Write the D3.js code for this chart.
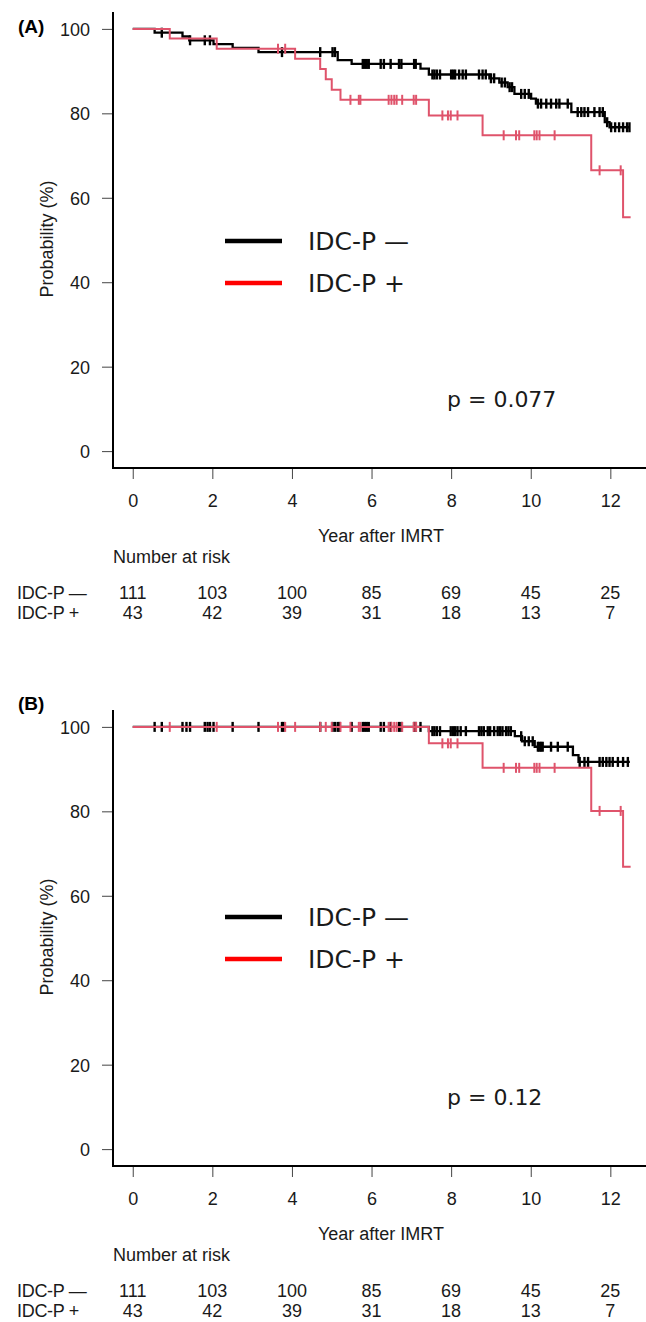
<!DOCTYPE html>
<html>
<head>
<meta charset="utf-8">
<title>KM curves IDC-P</title>
<style>
  body { margin: 0; background: #fff; }
  svg { display: block; }
  .tick text { font-family: "Liberation Sans", Arial, sans-serif; font-size: 18px; fill: #1a1a1a; }
  .tick line { stroke: #444; stroke-width: 1px; }
  .lab { font-family: "Liberation Sans", Arial, sans-serif; font-size: 18px; fill: #1a1a1a; }
  .leg { font-family: "DejaVu Sans", Verdana, sans-serif; fill: #1a1a1a; }
</style>
<script src="https://cdn.jsdelivr.net/npm/d3@7"></script>
</head>
<body>
<div id="chart"></div>
<script>
// x axis ticks and number at risk
var years = [0, 2, 4, 6, 8, 10, 12];
var yTicks = [0, 20, 40, 60, 80, 100];
var riskNeg = [111, 103, 100, 85, 69, 45, 25];
var riskPos = [43, 42, 39, 31, 18, 13, 7];

// (A) black = IDC-P -, red = IDC-P +
var blackA_time = [0, 0.55, 1.25, 1.42, 2.03, 2.51, 3.16, 5.15, 5.5, 7.23, 7.44, 8.96, 9.21, 9.42, 9.59, 10.01, 10.13, 11.02, 11.86, 11.98];
var blackA_surv = [100, 99.1, 98.2, 97.3, 96.4, 95.5, 94.5, 92.6, 91.7, 90.6, 89.2, 88.3, 87.3, 86.2, 84.6, 83.5, 82.3, 80.3, 77.9, 76.7];
var blackA_end = 12.49;
var blackA_censor = [0.73, 1.44, 1.81, 1.94, 3.75, 4.71, 5.02, 5.08, 5.78, 5.83, 5.88, 5.93, 6.23, 6.31, 6.48, 6.69,
  6.75, 7.07, 7.11, 7.53, 7.58, 7.64, 7.72, 8.0, 8.05, 8.1, 8.2, 8.29, 8.37, 8.7, 8.79, 8.87, 9.0, 9.08, 9.27, 9.35,
  9.47, 9.53, 9.76, 9.85, 9.95, 10.18, 10.26, 10.39, 10.51, 10.64, 10.72, 10.93, 11.18, 11.27, 11.35, 11.44, 11.6,
  11.73, 11.81, 11.92, 12.02, 12.12, 12.22, 12.32, 12.42, 12.48];

var redA_time = [0, 0.93, 2.11, 4.08, 4.71, 4.85, 5.0, 5.22, 7.44, 8.79, 11.52, 12.32];
var redA_surv = [100, 97.7, 95.3, 92.9, 90.5, 88.1, 85.6, 83.2, 79.5, 74.8, 66.5, 55.4];
var redA_end = 12.51;
var redA_censor = [3.65, 3.83, 5.47, 5.68, 5.72, 6.43, 6.5, 6.57, 6.63, 6.77, 7.06, 7.12, 7.78, 7.92, 7.99, 8.16,
  9.32, 9.63, 9.71, 10.09, 10.15, 10.22, 10.6, 11.73, 12.26];

// (B)
var blackB_time = [0, 7.44, 9.6, 9.78, 10.1, 11.06, 11.2];
var blackB_surv = [100, 99.0, 97.8, 96.6, 95.3, 93.3, 91.7];
var blackB_end = 12.49;
var blackB_censor = [0.55, 0.73, 1.25, 1.35, 1.44, 1.81, 1.88, 1.94, 2.03, 2.51, 3.16, 3.75, 3.79, 4.71, 5.02, 5.08,
  5.15, 5.2, 5.5, 5.78, 5.83, 5.88, 5.93, 6.23, 6.31, 6.48, 6.69, 6.75, 7.07, 7.11, 7.23, 7.53, 7.58, 7.64, 7.72,
  7.99, 8.05, 8.1, 8.16, 8.24, 8.37, 8.7, 8.76, 8.82, 8.92, 8.98, 9.08, 9.17, 9.23, 9.29, 9.38, 9.44, 9.5, 9.76,
  9.85, 9.95, 10.05, 10.18, 10.22, 10.26, 10.3, 10.51, 10.68, 10.93, 11.23, 11.35, 11.44, 11.73, 11.81, 11.9,
  11.98, 12.06, 12.19, 12.32, 12.44];

var redB_time = [0, 7.44, 8.79, 11.52, 12.32];
var redB_surv = [100, 96.1, 90.3, 80.1, 66.9];
var redB_end = 12.51;
var redB_censor = [0.93, 2.11, 3.65, 3.83, 4.08, 4.71, 4.85, 5.0, 5.22, 5.47, 5.68, 5.72, 6.43, 6.5, 6.57, 6.63,
  6.77, 7.06, 7.12, 7.78, 7.92, 7.99, 8.16, 9.32, 9.63, 9.71, 10.09, 10.15, 10.22, 10.6, 11.73, 12.26];

var groupNames = ["IDC-P \u2014", "IDC-P +"];
var pValues = ["p = 0.077", "p = 0.12"];
var panelTags = ["(A)", "(B)"];

var colBlack = "#000000", colRed = "#DF536B", colLegRed = "#FF0000";

var W = 646, H = 1322;
var svg = d3.select("#chart").append("svg")
    .attr("width", W)
    .attr("height", H);

var x = d3.scaleLinear().domain([-0.496, 12.896]).range([113, 646]);

// step value at time t
function survAt(times, surv, t) {
    var s = surv[0];
    for (var i = 0; i < times.length; i++) {
        if (times[i] <= t) s = surv[i];
    }
    return s;
}

function drawPanel(off, tag, tagY, legY, curves, pText) {
    var g = svg.append("g").attr("transform", "translate(0," + off + ")");
    var y = d3.scaleLinear().domain([-4, 104]).range([468, 12]);

    // y axis
    g.append("g")
        .attr("transform", "translate(113,0)")
        .call(d3.axisLeft(y).tickValues(yTicks).tickSize(11).tickPadding(12))
        .call(function(a) { a.select(".domain").remove(); a.selectAll("text").attr("dy", "0.36em"); });

    // x axis
    g.append("g")
        .attr("transform", "translate(0,468)")
        .call(d3.axisBottom(x).tickValues(years).tickSize(11).tickPadding(15))
        .call(function(a) { a.select(".domain").remove(); });

    // L-shaped frame
    g.append("path")
        .attr("d", "M113,12V468H646")
        .attr("fill", "none")
        .attr("stroke", "#000")
        .attr("stroke-width", 2);

    var line = d3.line()
        .curve(d3.curveStepAfter)
        .x(function(d) { return x(d[0]); })
        .y(function(d) { return y(d[1]); });

    curves.forEach(function(c) {
        var pts = c.time.map(function(t, i) { return [t, c.surv[i]]; });
        pts.push([c.end, c.surv[c.surv.length - 1]]);
        g.append("path")
            .datum(pts)
            .attr("d", line)
            .attr("fill", "none")
            .attr("stroke", c.color)
            .attr("stroke-width", c.color === colBlack ? 2.3 : 2);
        g.selectAll(null)
            .data(c.censor)
            .enter().append("line")
            .attr("x1", function(t) { return x(t); })
            .attr("x2", function(t) { return x(t); })
            .attr("y1", function(t) { return y(survAt(c.time, c.surv, t)) - 5; })
            .attr("y2", function(t) { return y(survAt(c.time, c.surv, t)) + 5; })
            .attr("stroke", c.color)
            .attr("stroke-width", c.color === colBlack ? 2.4 : 2);
    });

    // panel tag
    g.append("text")
        .attr("x", 18).attr("y", tagY)
        .style("font-family", "'Liberation Sans', Arial, sans-serif")
        .style("font-size", "19px")
        .style("font-weight", "bold")
        .text(tag);

    // y label
    g.append("text")
        .attr("class", "lab")
        .attr("transform", "translate(53,239) rotate(-90)")
        .attr("text-anchor", "middle")
        .text("Probability (%)");

    // x label
    g.append("text")
        .attr("class", "lab")
        .attr("x", 381).attr("y", 542)
        .attr("text-anchor", "middle")
        .text("Year after IMRT");

    // legend
    [colBlack, colLegRed].forEach(function(col, i) {
        g.append("line")
            .attr("x1", 225).attr("x2", 282)
            .attr("y1", legY[i]).attr("y2", legY[i])
            .attr("stroke", col)
            .attr("stroke-width", 4.5);
        g.append("text")
            .attr("class", "leg")
            .attr("x", 308).attr("y", legY[i] + 9)
            .style("font-size", "25px")
            .text(groupNames[i]);
    });

    // p value
    g.append("text")
        .attr("class", "leg")
        .attr("x", 447).attr("y", 407)
        .style("font-size", "22px")
        .text(pText);

    // number at risk
    g.append("text")
        .attr("class", "lab")
        .attr("x", 113).attr("y", 563)
        .text("Number at risk");

    [riskNeg, riskPos].forEach(function(row, i) {
        var yy = 599 + i * 20;
        g.append("text")
            .attr("class", "lab")
            .attr("x", 17).attr("y", yy)
            .style("letter-spacing", "-0.3px")
            .text(groupNames[i]);
        g.selectAll(null)
            .data(row)
            .enter().append("text")
            .attr("class", "lab")
            .attr("x", function(d, j) { return x(years[j]); })
            .attr("y", yy)
            .attr("text-anchor", "middle")
            .text(function(d) { return d; });
    });
}

drawPanel(0, panelTags[0], 33, [241, 283], [
    { time: blackA_time, surv: blackA_surv, end: blackA_end, censor: blackA_censor, color: colBlack },
    { time: redA_time, surv: redA_surv, end: redA_end, censor: redA_censor, color: colRed }
], pValues[0]);

drawPanel(698, panelTags[1], 12, [219, 261], [
    { time: blackB_time, surv: blackB_surv, end: blackB_end, censor: blackB_censor, color: colBlack },
    { time: redB_time, surv: redB_surv, end: redB_end, censor: redB_censor, color: colRed }
], pValues[1]);
</script>
</body>
</html>
